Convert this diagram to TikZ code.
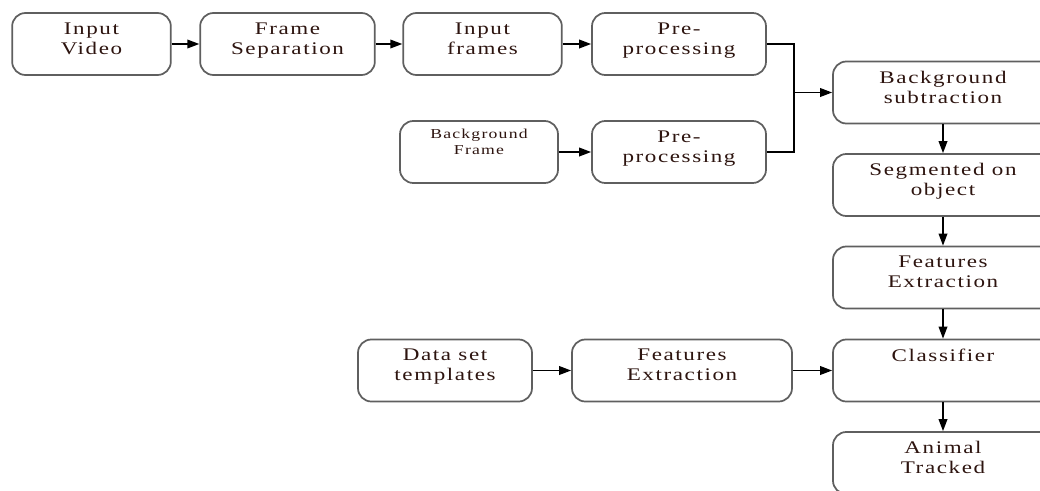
\documentclass[tikz,border=0pt]{standalone}
\usepackage{fontspec}
\setmainfont{Liberation Serif}[FakeStretch=1.3, LetterSpace=9]
\usetikzlibrary{arrows.meta}
\definecolor{boxgray}{RGB}{95,95,95}
\definecolor{ink}{RGB}{45,20,15}
\tikzset{
    box/.style={draw=boxgray, line width=1.3pt, rounded corners=10pt, fill=white,
        minimum height=46.5pt, inner sep=0pt},
    txt/.style={anchor=north, yshift=-7.5pt, align=center, text=ink, inner sep=0pt,
        font=\fontsize{13.3}{15}\selectfont},
    smalltxt/.style={txt, yshift=1pt, font=\fontsize{10.2}{12}\selectfont},
    arr/.style={line width=1.1pt, -{Triangle[length=9pt,width=6.5pt]}}
}
\begin{document}
\begin{tikzpicture}[x=0.75pt,y=-0.75pt]
    \useasboundingbox (0,0) rectangle (1040,490);
    \clip (0,0) rectangle (1040,490);
    \node[box, minimum width=119pt, label={[txt]north:Input\\Video}] (vid) at (91.5,44) {};
    \node[box, minimum width=131pt, label={[txt]north:Frame\\Separation}] (sep) at (287.5,44) {};
    \node[box, minimum width=119pt, label={[txt]north:Input\\frames}] (frm) at (482.5,44) {};
    \node[box, minimum width=130.5pt, label={[txt]north:Pre-\\processing}] (pre1) at (679,44) {};
    \node[box, minimum width=118.5pt, label={[smalltxt]north:Background\\Frame}] (bgf) at (479,152) {};
    \node[box, minimum width=130.5pt, label={[txt]north:Pre-\\processing}] (pre2) at (679,152) {};
    \node[box, minimum width=165pt, label={[txt]north:Background\\subtraction}] (sub) at (943,92.5) {};
    \node[box, minimum width=165pt, label={[txt]north:Segmented on\\object}] (seg) at (943,185) {};
    \node[box, minimum width=165pt, label={[txt]north:Features\\Extraction}] (fea) at (943,277.5) {};
    \node[box, minimum width=165pt, label={[txt]north:Classifier}] (cls) at (943,370.5) {};
    \node[box, minimum width=165pt, label={[txt]north:Animal\\Tracked}] (ani) at (943,463) {};
    \node[box, minimum width=130.5pt, label={[txt]north:Data set\\templates}] (dat) at (445,370.5) {};
    \node[box, minimum width=165pt, label={[txt]north:Features\\Extraction}] (fex) at (682,370.5) {};
    \coordinate (jn) at (794,92.5);
    \draw[arr] (vid) -- (sep);
    \draw[arr] (sep) -- (frm);
    \draw[arr] (frm) -- (pre1);
    \draw[arr] (bgf) -- (pre2);
    \draw[line width=1.1pt] (pre1.east) -| (jn) |- (pre2.east);
    \draw[arr] (jn) -- (sub);
    \draw[arr] (sub) -- (seg);
    \draw[arr] (seg) -- (fea);
    \draw[arr] (fea) -- (cls);
    \draw[arr] (cls) -- (ani);
    \draw[arr] (dat) -- (fex);
    \draw[arr] (fex) -- (cls);
\end{tikzpicture}
\end{document}
